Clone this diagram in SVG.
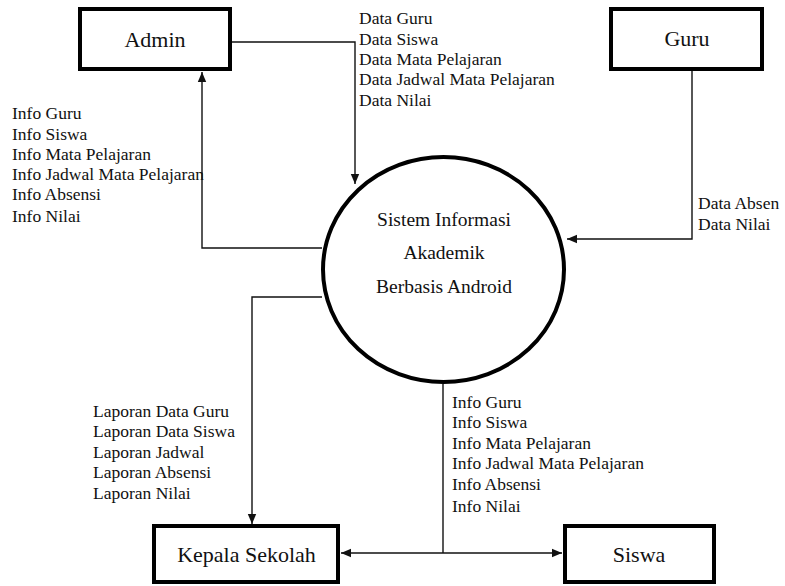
<svg xmlns="http://www.w3.org/2000/svg" width="785" height="586" viewBox="0 0 785 586">
<style>
  .box { fill: #fff; stroke: #000; stroke-width: 4; }
  .proc { fill: #fff; stroke: #000; stroke-width: 4; }
  text { font-family: 'Liberation Serif', 'Times New Roman', serif; fill: #111; }
  .name { font-size: 22px; text-anchor: middle; }
  .ptxt { font-size: 19.5px; text-anchor: middle; }
  .lbl { font-size: 17.5px; }
  .flow { fill: none; stroke: #111; stroke-width: 1.4; }
</style>
<defs>
  <marker id="arr" viewBox="0 0 10 10" refX="10" refY="5" markerWidth="10" markerHeight="10" markerUnits="userSpaceOnUse" orient="auto">
    <path d="M0,0.8 L10,5 L0,9.2 Z" fill="#111"/>
  </marker>
</defs>
<rect width="785" height="586" fill="#fff"/>

<g id="connectors">
  <path class="flow" d="M232,42 H355 V184" marker-end="url(#arr)"/>
  <path class="flow" d="M322,248 H202 V72" marker-end="url(#arr)"/>
  <path class="flow" d="M692,71 V239 H567" marker-end="url(#arr)"/>
  <path class="flow" d="M322,297 H252 V524" marker-end="url(#arr)"/>
  <path class="flow" d="M443,384 V553"/>
  <path class="flow" d="M443,553 H341" marker-end="url(#arr)"/>
  <path class="flow" d="M443,553 H562" marker-end="url(#arr)"/>
</g>

<g id="labels">
  <text class="lbl" x="359" y="24">Data Guru</text>
  <text class="lbl" x="359" y="45">Data Siswa</text>
  <text class="lbl" x="359" y="65">Data Mata Pelajaran</text>
  <text class="lbl" x="359" y="85">Data Jadwal Mata Pelajaran</text>
  <text class="lbl" x="359" y="106">Data Nilai</text>

  <text class="lbl" x="12" y="119">Info Guru</text>
  <text class="lbl" x="12" y="140">Info Siswa</text>
  <text class="lbl" x="12" y="160">Info Mata Pelajaran</text>
  <text class="lbl" x="12" y="180">Info Jadwal Mata Pelajaran</text>
  <text class="lbl" x="12" y="200">Info Absensi</text>
  <text class="lbl" x="12" y="222">Info Nilai</text>

  <text class="lbl" x="698" y="209">Data Absen</text>
  <text class="lbl" x="698" y="230">Data Nilai</text>

  <text class="lbl" x="93" y="417">Laporan Data Guru</text>
  <text class="lbl" x="93" y="437">Laporan Data Siswa</text>
  <text class="lbl" x="93" y="458">Laporan Jadwal</text>
  <text class="lbl" x="93" y="478">Laporan Absensi</text>
  <text class="lbl" x="93" y="499">Laporan Nilai</text>

  <text class="lbl" x="452" y="408">Info Guru</text>
  <text class="lbl" x="452" y="428">Info Siswa</text>
  <text class="lbl" x="452" y="449">Info Mata Pelajaran</text>
  <text class="lbl" x="452" y="469">Info Jadwal Mata Pelajaran</text>
  <text class="lbl" x="452" y="490">Info Absensi</text>
  <text class="lbl" x="452" y="512">Info Nilai</text>
</g>

<g id="admin">
  <rect class="box" x="80" y="9" width="150" height="60"/>
  <text class="name" x="155" y="47">Admin</text>
</g>

<g id="guru">
  <rect class="box" x="611" y="9" width="151" height="60"/>
  <text class="name" x="687" y="46">Guru</text>
</g>

<g id="sistem">
  <ellipse class="proc" cx="443.5" cy="269.5" rx="120.5" ry="112.5"/>
  <text class="ptxt" x="444" y="226">Sistem Informasi</text>
  <text class="ptxt" x="444" y="259">Akademik</text>
  <text class="ptxt" x="444" y="293">Berbasis Android</text>
</g>

<g id="kepala-sekolah">
  <rect class="box" x="154" y="526" width="184" height="56"/>
  <text class="name" x="246.5" y="562">Kepala Sekolah</text>
</g>

<g id="siswa">
  <rect class="box" x="565" y="526" width="149" height="56"/>
  <text class="name" x="639" y="562">Siswa</text>
</g>
</svg>
